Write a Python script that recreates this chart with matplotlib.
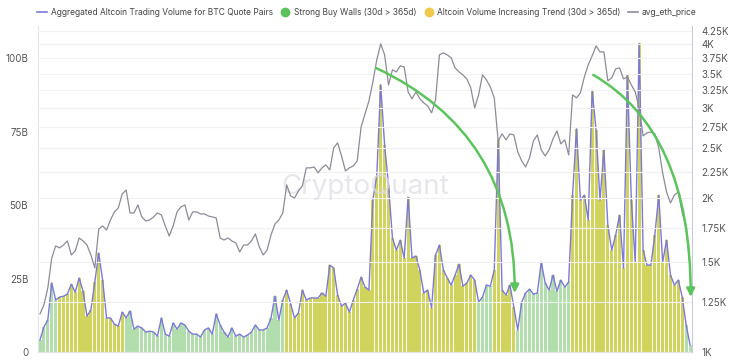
import numpy as np
import matplotlib
matplotlib.use("Agg")
import matplotlib.pyplot as plt
from matplotlib.lines import Line2D
from matplotlib.ticker import NullLocator

plt.rcParams['font.family'] = ['Inter', 'DejaVu Sans']

# aggregated altcoin volume, BTC quote pairs (billions), 5-day steps from Jan 2023
volume_b = [
    4.1, 8.5, 10.9, 23.5, 17.7, 18.7, 19.0, 19.7, 23.1, 20.4,
    25.2, 20.7, 12.2, 14.3, 23.8, 33.7, 24.5, 11.6, 11.6, 9.5,
    8.8, 13.6, 11.6, 14.0, 7.8, 8.8, 8.2, 6.8, 7.1, 6.8,
    5.4, 11.6, 6.1, 5.4, 9.9, 7.8, 9.9, 9.2, 7.1, 6.1,
    6.1, 5.1, 7.5, 8.2, 6.1, 13.0, 9.2, 6.8, 5.1, 8.2,
    5.4, 6.1, 5.1, 5.8, 6.8, 9.2, 7.5, 7.5, 8.2, 11.6,
    19.0, 10.9, 17.7, 21.1, 16.3, 11.6, 13.3, 21.1, 17.7, 18.4,
    18.4, 18.4, 20.1, 19.0, 29.6, 28.6, 19.4, 15.6, 16.7, 13.6,
    17.7, 21.4, 25.5, 22.1, 21.1, 51.7, 60.0, 91.0, 70.4, 56.8,
    38.8, 34.7, 38.1, 32.0, 52.7, 32.0, 32.7, 27.9, 20.1, 21.1,
    15.0, 33.0, 36.4, 27.9, 25.2, 22.8, 26.2, 29.9, 22.4, 23.5,
    26.2, 24.5, 17.0, 18.7, 22.8, 22.4, 27.9, 72.1, 21.1, 19.4,
    22.8, 15.3, 7.5, 17.0, 20.1, 21.4, 19.7, 20.1, 30.6, 23.5,
    21.1, 26.2, 20.7, 24.5, 22.1, 23.8, 53.4, 76.0, 51.7, 53.4,
    44.9, 89.1, 75.5, 51.7, 68.7, 43.2, 34.7, 39.8, 46.6, 28.6,
    94.2, 51.7, 30.6, 105.1, 34.7, 29.6, 29.6, 39.8, 53.4, 30.6,
    38.1, 26.2, 22.8, 24.5, 18.7, 9.2, 2.4,
]

eth_price = [
    1187, 1236, 1334, 1527, 1612, 1598, 1619, 1649, 1548, 1576,
    1671, 1649, 1619, 1548, 1460, 1740, 1764, 1732, 1812, 1879,
    1913, 2037, 2074, 1870, 1870, 1939, 1837, 1804, 1812, 1837,
    1870, 1854, 1764, 1686, 1764, 1879, 1922, 1939, 1812, 1879,
    1879, 1862, 1862, 1845, 1837, 1829, 1671, 1656, 1671, 1649,
    1634, 1569, 1619, 1619, 1649, 1702, 1605, 1548, 1583, 1694,
    1780, 1812, 1870, 2122, 2019, 2001, 2065, 2112, 2291, 2291,
    2301, 2240, 2291, 2322, 2270, 2507, 2564, 2418, 2260, 2291,
    2311, 2364, 2755, 2921, 3098, 3374, 3726, 4004, 3811, 3329,
    3562, 3530, 3627, 3610, 3226, 3126, 3226, 3126, 3070, 3029,
    2935, 3112, 3811, 3845, 3811, 3759, 3594, 3530, 3482, 3420,
    3285, 3002, 3183, 3482, 3405, 3299, 3140, 2587, 2670, 2599,
    2670, 2658, 2462, 2364, 2301, 2396, 2587, 2658, 2484, 2418,
    2484, 2610, 2706, 2552, 2599, 2429, 3183, 3140, 3211, 3451,
    3643, 3794, 3968, 3862, 3862, 3390, 3436, 3578, 3594, 3420,
    3451, 3329, 3226, 3002, 2646, 2682, 2694, 2670, 2507, 2240,
    2056, 1956, 2028, 2056, 1870, 1764, 1466,
]

# which signal each run of bars belongs to
signal_runs = [("buy_wall", 5), ("trend", 17), ("buy_wall", 41), ("trend", 49),
               ("buy_wall", 4), ("trend", 6), ("buy_wall", 14), ("trend", 29),
               ("buy_wall", 2)]

left_ticks = [0, 25, 50, 75, 100]
left_labels = ["0", "25B", "50B", "75B", "100B"]
right_ticks = [1000, 1250, 1500, 1750, 2000, 2250, 2500, 2750, 3000,
               3250, 3500, 3750, 4000, 4250]
right_labels = ["1K", "1.25K", "1.5K", "1.75K", "2K", "2.25K", "2.5K", "2.75K",
                "3K", "3.25K", "3.5K", "3.75K", "4K", "4.25K"]

legend_labels = ["Aggregated Altcoin Trading Volume for BTC Quote Pairs",
                 "Strong Buy Walls (30d > 365d)",
                 "Altcoin Volume Increasing Trend (30d > 365d)",
                 "avg_eth_price"]

signals = [name for name, count in signal_runs for _ in range(count)]
x = np.arange(len(volume_b))

fig = plt.figure(figsize=(7.5, 3.62), dpi=100)
ax = fig.add_axes([0.0507, 0.0276, 0.872, 0.9006])
ax2 = ax.twinx()

bar_colors = {"buy_wall": "#a9dba3", "trend": "#cbcf4a"}
ax.bar(x, volume_b, width=0.8, color=[bar_colors[s] for s in signals],
       alpha=0.9, linewidth=0, zorder=2)
ax.plot(x, volume_b, color="#7c79d8", lw=1.0, zorder=3)
ax.set_xlim(-0.5, len(x) - 0.5)
ax.set_ylim(0, 111)
ax.set_yticks(left_ticks, left_labels)
ax.set_xticks([])
ax.tick_params(axis='y', length=0, labelsize=7, colors='#555555', pad=7)

ax2.plot(x, eth_price, color="#8d8b98", lw=0.9, zorder=3)
ax2.set_yscale('log')
ax2.set_ylim(1000, 4340)
ax2.set_yticks(right_ticks, right_labels)
ax2.yaxis.set_minor_locator(NullLocator())
ax2.tick_params(axis='y', length=0, labelsize=7, colors='#555555', pad=7)
ax2.grid(axis='y', color='#f1f1f4', lw=0.8, zorder=0)
ax2.set_axisbelow(True)

for a in (ax, ax2):
    a.spines['top'].set_visible(False)
ax.spines['right'].set_visible(False)
ax2.spines['left'].set_visible(False)
ax2.spines['bottom'].set_visible(False)
ax.spines['left'].set_color('#e4e4ec')
ax.spines['bottom'].set_color('#e6e6e6')
ax2.spines['right'].set_color('#c9c9dd')

ax2.text(0.5, 0.506, "CryptoQuant", transform=ax2.transAxes, fontsize=20,
         color='#dcdce4', alpha=0.7, ha='center', va='center', zorder=1)

# trend arrows after each price peak
arrow_green = '#5cc45c'
ax2.annotate("", xy=(0.729, 0.181), xytext=(0.517, 0.871), xycoords='axes fraction',
             arrowprops=dict(arrowstyle='-|>', color=arrow_green, lw=1.8,
                             mutation_scale=12, shrinkA=0, shrinkB=0,
                             connectionstyle='angle3,angleA=-25,angleB=90'))
ax2.annotate("", xy=(0.998, 0.169), xytext=(0.849, 0.850), xycoords='axes fraction',
             arrowprops=dict(arrowstyle='-|>', color=arrow_green, lw=1.8,
                             mutation_scale=12, shrinkA=0, shrinkB=0,
                             connectionstyle='angle3,angleA=-30,angleB=90'))

handles = [Line2D([], [], color="#7c79d8", lw=1.2),
           Line2D([], [], ls='', marker='o', ms=6, color="#5bc25b"),
           Line2D([], [], ls='', marker='o', ms=6, color="#f0c94b"),
           Line2D([], [], color="#8d8b98", lw=1.2)]
fig.legend(handles, legend_labels, loc='center', bbox_to_anchor=(0.489, 0.965),
           ncol=4, frameon=False, fontsize=6.05, handlelength=1.2,
           handletextpad=0.4, columnspacing=0.9, labelcolor='#444444')

fig.savefig("out.png", dpi=100)
